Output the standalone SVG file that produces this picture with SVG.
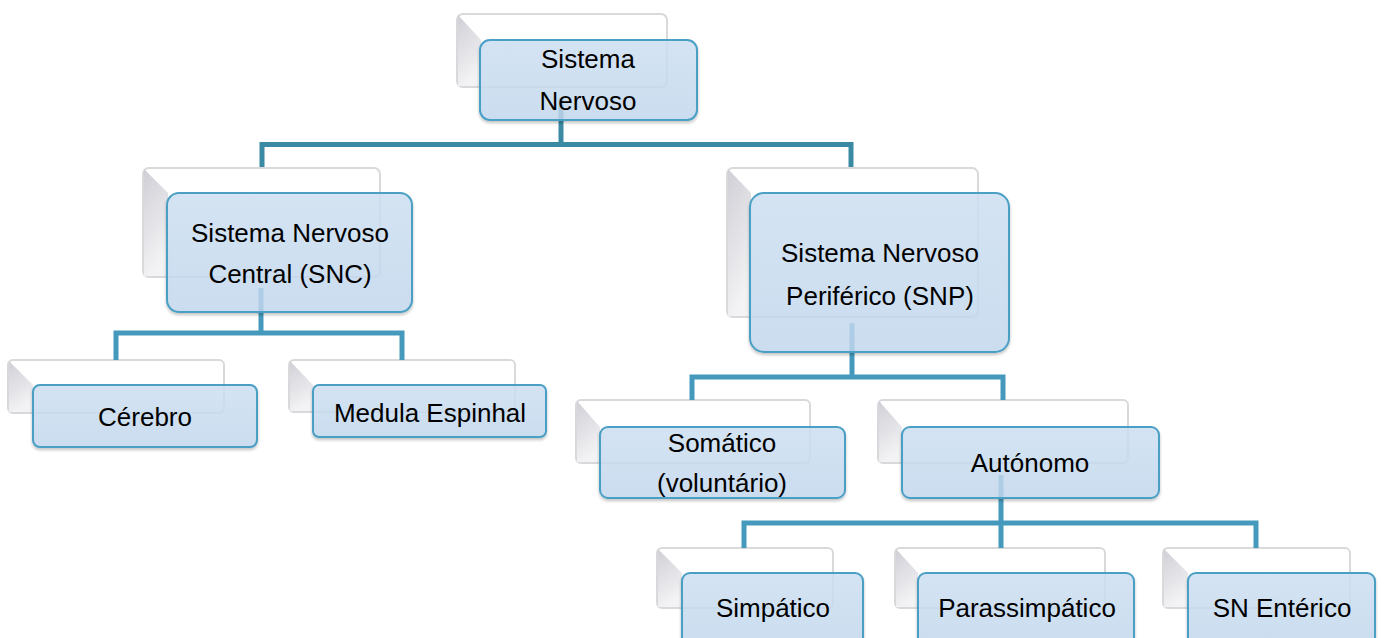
<svg xmlns="http://www.w3.org/2000/svg" width="1384" height="638" viewBox="0 0 1384 638">
<defs>
<linearGradient id="fg" x1="0" y1="0" x2="0" y2="1">
<stop offset="0" stop-color="#d0e3f6"/>
<stop offset="1" stop-color="#c5daf1"/>
</linearGradient>
<linearGradient id="bev" x1="0" y1="0" x2="0.3" y2="1">
<stop offset="0" stop-color="#cfcfd6"/>
<stop offset="1" stop-color="#f3f3f5"/>
</linearGradient>
<filter id="sh" x="-10%" y="-10%" width="120%" height="130%">
<feDropShadow dx="0" dy="2" stdDeviation="1.5" flood-color="#000" flood-opacity="0.25"/>
</filter>
</defs>
<style>
.back{fill:#fff;stroke:#d9d9dc;stroke-width:2}
.bev{fill:url(#bev)}
.front{fill:url(#fg);fill-opacity:0.8;stroke:#4a9fc4;stroke-width:2;filter:url(#sh)}
.c1{fill:none;stroke:#3b8aa3;stroke-width:5}
.c2{fill:none;stroke:#4599bd;stroke-width:5}
text{font-family:"Liberation Sans",Arial,sans-serif;font-size:26px;fill:#000;text-anchor:middle}
</style>
<rect width="1384" height="638" fill="#fff"/>

<g id="backs">
<rect class="back" x="457" y="14" width="210" height="73" rx="6"/>
<polygon class="bev" points="458,15 481,40 481,86 458,86"/>
<rect class="back" x="143" y="168" width="237" height="109" rx="6"/>
<polygon class="bev" points="144,169 168,193 168,276 144,276"/>
<rect class="back" x="727" y="168" width="251" height="149" rx="6"/>
<polygon class="bev" points="728,169 751,193 751,316 728,316"/>
<rect class="back" x="8" y="360" width="216" height="53" rx="5"/>
<polygon class="bev" points="9,361 33,385 33,412 9,412"/>
<rect class="back" x="289" y="360" width="226" height="52" rx="5"/>
<polygon class="bev" points="290,361 313,385 313,411 290,411"/>
<rect class="back" x="576" y="400" width="234" height="63" rx="5"/>
<polygon class="bev" points="577,401 600,427 600,462 577,462"/>
<rect class="back" x="878" y="400" width="250" height="63" rx="5"/>
<polygon class="bev" points="879,401 902,427 902,462 879,462"/>
<rect class="back" x="657" y="548" width="176" height="60" rx="5"/>
<polygon class="bev" points="658,549 682,573 682,607 658,607"/>
<rect class="back" x="895" y="548" width="210" height="60" rx="5"/>
<polygon class="bev" points="896,549 918,573 918,607 896,607"/>
<rect class="back" x="1163" y="548" width="187" height="60" rx="5"/>
<polygon class="bev" points="1164,549 1188,573 1188,607 1164,607"/>
</g>

<g id="connectors">
<path class="c1" d="M262,167 V144.5 H851 V167 M561,98 V144.5"/>
<path class="c2" d="M116,360 V333 H402 V360 M261,288 V333"/>
<path class="c2" d="M692,400 V377 H1003 V400 M852,323 V377"/>
<path class="c2" d="M744,548 V523 H1256 V548 M1001,475 V548"/>
</g>

<g id="n-sistema-nervoso">
<rect class="front" x="480" y="40" width="217" height="80" rx="10"/>
<text x="588" y="68">Sistema</text>
<text x="588" y="110">Nervoso</text>
</g>
<g id="n-snc">
<rect class="front" x="167" y="193" width="245" height="119" rx="12"/>
<text x="290" y="242">Sistema Nervoso</text>
<text x="290" y="283">Central (SNC)</text>
</g>
<g id="n-snp">
<rect class="front" x="750" y="193" width="259" height="159" rx="14"/>
<text x="880" y="262">Sistema Nervoso</text>
<text x="880" y="305">Periférico (SNP)</text>
</g>
<g id="n-cerebro">
<rect class="front" x="33" y="385" width="224" height="62" rx="7"/>
<text x="145" y="426">Cérebro</text>
</g>
<g id="n-medula">
<rect class="front" x="313" y="385" width="233" height="52" rx="6"/>
<text x="430" y="422">Medula Espinhal</text>
</g>
<g id="n-somatico">
<rect class="front" x="600" y="427" width="245" height="71" rx="8"/>
<text x="722" y="452">Somático</text>
<text x="722" y="492">(voluntário)</text>
</g>
<g id="n-autonomo">
<rect class="front" x="902" y="427" width="257" height="71" rx="8"/>
<text x="1030" y="472">Autónomo</text>
</g>
<g id="n-simpatico">
<rect class="front" x="682" y="573" width="181" height="75" rx="8"/>
<text x="773" y="617">Simpático</text>
</g>
<g id="n-parassimpatico">
<rect class="front" x="918" y="573" width="216" height="75" rx="8"/>
<text x="1027" y="617">Parassimpático</text>
</g>
<g id="n-sn-enterico">
<rect class="front" x="1188" y="573" width="187" height="75" rx="8"/>
<text x="1282" y="617">SN Entérico</text>
</g>
</svg>
